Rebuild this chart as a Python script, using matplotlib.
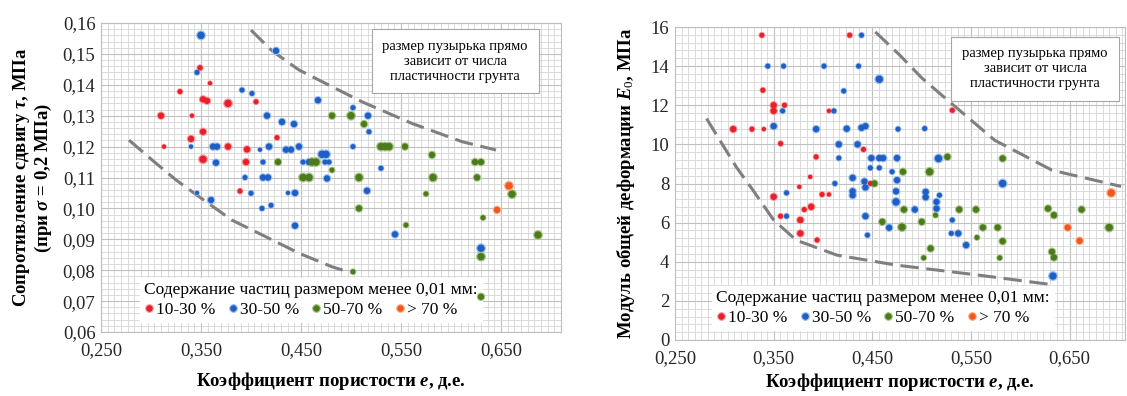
import numpy as np
import matplotlib.pyplot as plt
from matplotlib.ticker import MultipleLocator, FixedLocator, FuncFormatter
from matplotlib.lines import Line2D

plt.rcParams['font.family'] = ['Liberation Serif', 'DejaVu Serif']
plt.rcParams['mathtext.fontset'] = 'custom'
plt.rcParams['mathtext.rm'] = 'Liberation Serif'
plt.rcParams['mathtext.it'] = 'Liberation Serif:italic:bold'
plt.rcParams['mathtext.bf'] = 'Liberation Serif:bold'

groups = ['10-30 %', '30-50 %', '50-70 %', '> 70 %']
colors = ['#e8202a', '#1f5fc4', '#4c7a1c', '#f2581b']
halos = ['#f7a0a4', '#9fc0f0', '#a9c98a', '#f9b08f']

# --- сопротивление сдвигу: e, tau, число пластичности (размер пузырька)
tau_red_e = [0.349, 0.359, 0.329, 0.352, 0.356, 0.377, 0.310, 0.341, 0.352, 0.426, 0.340, 0.313,
             0.377, 0.396, 0.352, 0.395, 0.389, 0.405]
tau_red_t = [0.1455, 0.1405, 0.1378, 0.1353, 0.1348, 0.134, 0.130, 0.130, 0.1248, 0.1229, 0.1225, 0.120,
             0.120, 0.1191, 0.1159, 0.115, 0.1056, 0.1345]
tau_red_ip = [8, 5, 7, 11, 11, 15, 11, 5, 11, 7, 11, 5, 11, 11, 15, 11, 7, 7]

tau_blue_e = [0.350, 0.346, 0.425, 0.391, 0.401, 0.467, 0.416, 0.431, 0.443, 0.502, 0.517, 0.518,
              0.340, 0.362, 0.366, 0.409, 0.418, 0.435, 0.440, 0.448, 0.502, 0.365, 0.412, 0.452,
              0.458, 0.471, 0.475, 0.474, 0.478, 0.476, 0.394, 0.412, 0.417, 0.530, 0.400, 0.437,
              0.444, 0.346, 0.360, 0.411, 0.420, 0.444, 0.516, 0.544, 0.630]
tau_blue_t = [0.156, 0.144, 0.151, 0.1383, 0.1372, 0.135, 0.130, 0.128, 0.1273, 0.1326, 0.130, 0.1248,
              0.120, 0.120, 0.120, 0.119, 0.120, 0.119, 0.119, 0.120, 0.120, 0.1148, 0.115, 0.115,
              0.115, 0.1175, 0.1175, 0.115, 0.115, 0.1097, 0.110, 0.110, 0.110, 0.113, 0.1049, 0.105,
              0.105, 0.105, 0.1027, 0.100, 0.101, 0.0944, 0.1057, 0.0916, 0.0871]
tau_blue_ip = [15, 7, 11, 7, 7, 11, 11, 11, 11, 7, 11, 7,
               5, 11, 11, 5, 11, 11, 11, 11, 7, 11, 7, 7,
               11, 15, 15, 7, 7, 11, 7, 11, 11, 7, 7, 5,
               11, 5, 11, 7, 7, 11, 11, 11, 15]

tau_green_e = [0.427, 0.461, 0.465, 0.481, 0.452, 0.458, 0.481, 0.500, 0.513, 0.530, 0.534, 0.538,
               0.554, 0.581, 0.624, 0.630, 0.508, 0.582, 0.626, 0.575, 0.661, 0.508, 0.632, 0.555,
               0.687, 0.630, 0.502, 0.630]
tau_green_t = [0.115, 0.115, 0.115, 0.1124, 0.110, 0.110, 0.130, 0.130, 0.1273, 0.120, 0.120, 0.120,
               0.120, 0.1173, 0.115, 0.115, 0.110, 0.110, 0.110, 0.1047, 0.1046, 0.100, 0.097, 0.0946,
               0.0914, 0.0844, 0.0795, 0.0714]
tau_green_ip = [11, 15, 15, 7, 15, 15, 11, 15, 11, 15, 15, 15,
                11, 11, 11, 11, 15, 15, 11, 7, 15, 11, 7, 7,
                15, 15, 7, 11]

tau_orange_e = [0.658, 0.646]
tau_orange_t = [0.1073, 0.0995]
tau_orange_ip = [15, 11]

# огибающие
tau_up_e = [0.400, 0.421, 0.448, 0.481, 0.511, 0.561, 0.611, 0.645]
tau_up_t = [0.1577, 0.1510, 0.1448, 0.1394, 0.1345, 0.1275, 0.1216, 0.1189]
tau_lo_e = [0.278, 0.301, 0.325, 0.348, 0.381, 0.415, 0.448, 0.481, 0.495]
tau_lo_t = [0.1221, 0.1157, 0.1092, 0.1038, 0.0962, 0.0908, 0.0855, 0.0811, 0.0797]

# --- модуль деформации: e, E0, число пластичности
e0_red_e = [0.338, 0.427, 0.339, 0.350, 0.361, 0.350, 0.406, 0.309, 0.328, 0.340, 0.357, 0.441,
            0.393, 0.387, 0.376, 0.399, 0.406, 0.350, 0.388, 0.381, 0.357, 0.377, 0.377, 0.394,
            0.531, 0.448]
e0_red_v = [15.58, 15.58, 12.77, 12.0, 12.0, 11.71, 11.71, 10.78, 10.78, 10.78, 10.04, 9.74,
            9.36, 8.34, 7.83, 7.44, 7.44, 7.32, 6.81, 6.67, 6.33, 6.13, 5.45, 5.11,
            11.74, 8.0]
e0_red_ip = [7, 7, 7, 11, 7, 11, 5, 11, 7, 5, 7, 7,
             7, 5, 5, 7, 5, 11, 11, 7, 7, 11, 11, 7,
             7, 7]

e0_blue_e = [0.439, 0.344, 0.360, 0.401, 0.436, 0.457, 0.421, 0.359, 0.411, 0.350, 0.393, 0.424,
             0.439, 0.443, 0.476, 0.503, 0.416, 0.435, 0.416, 0.449, 0.457, 0.461, 0.475, 0.517,
             0.448, 0.457, 0.470, 0.430, 0.442, 0.443, 0.412, 0.475, 0.363, 0.430, 0.430, 0.474,
             0.474, 0.504, 0.504, 0.518, 0.515, 0.515, 0.363, 0.443, 0.467, 0.445, 0.493, 0.531,
             0.530, 0.537, 0.545, 0.582, 0.633]
e0_blue_v = [15.58, 14.0, 14.0, 14.0, 14.0, 13.33, 12.73, 11.71, 11.71, 10.93, 10.78, 10.8,
             10.85, 10.93, 10.78, 10.81, 10.0, 10.0, 9.3, 9.3, 9.3, 9.3, 9.3, 9.28,
             8.8, 8.8, 8.6, 8.29, 8.1, 7.8, 8.0, 8.17, 7.52, 7.6, 7.4, 7.6,
             7.06, 7.57, 7.3, 7.4, 7.06, 6.72, 6.33, 6.33, 5.74, 5.36, 6.67, 6.13,
             5.45, 5.45, 4.85, 8.0, 3.27]
e0_blue_ip = [7, 7, 7, 7, 7, 15, 7, 7, 7, 11, 11, 11,
              11, 11, 7, 7, 11, 11, 7, 11, 11, 11, 11, 15,
              7, 7, 7, 11, 11, 11, 7, 11, 7, 11, 11, 11,
              15, 11, 11, 7, 11, 11, 7, 11, 11, 7, 11, 7,
              7, 11, 11, 15, 15]

e0_green_e = [0.452, 0.460, 0.480, 0.526, 0.582, 0.481, 0.508, 0.482, 0.514, 0.538, 0.555, 0.628,
              0.634, 0.662, 0.500, 0.562, 0.577, 0.690, 0.556, 0.582, 0.509, 0.502, 0.579, 0.632,
              0.634]
e0_green_v = [8.0, 6.04, 5.77, 9.36, 9.28, 8.6, 8.6, 6.67, 6.38, 6.67, 6.67, 6.72,
              6.38, 6.67, 6.04, 5.75, 5.75, 5.75, 5.24, 5.05, 4.68, 4.2, 4.2, 4.51,
              4.22]
e0_green_ip = [11, 11, 15, 11, 11, 11, 15, 11, 7, 11, 11, 11,
               11, 11, 11, 11, 11, 15, 7, 11, 11, 7, 7, 11,
               11]

e0_orange_e = [0.692, 0.648, 0.660]
e0_orange_v = [7.52, 5.75, 5.07]
e0_orange_ip = [15, 11, 11]

e0_up_e = [0.453, 0.478, 0.500, 0.523, 0.574, 0.632, 0.702]
e0_up_v = [15.75, 14.55, 13.4, 12.4, 10.21, 8.68, 7.85]
e0_lo_e = [0.282, 0.312, 0.329, 0.350, 0.373, 0.414, 0.474, 0.557, 0.635]
e0_lo_v = [11.32, 8.85, 7.66, 6.13, 5.10, 4.34, 3.83, 3.32, 2.81]

legend_title = 'Содержание частиц размером менее 0,01 мм:'
note_text = 'размер пузырька прямо\nзависит от числа\nпластичности грунта'


def bubble(ip):
    return 1.9 * np.asarray(ip, dtype=float)


def comma(fmt):
    return FuncFormatter(lambda v, p: (fmt % v).replace('.', ','))


def setup(ax, xlim, ylim, ymajor, yminor, yfmt):
    ax.set_xlim(*xlim)
    ax.set_ylim(*ylim)
    ax.xaxis.set_major_locator(MultipleLocator(0.1, offset=0.05))
    ax.xaxis.set_minor_locator(FixedLocator(np.arange(0.25, 0.72, 0.1 / 15)))
    ax.yaxis.set_major_locator(MultipleLocator(ymajor))
    ax.yaxis.set_minor_locator(MultipleLocator(yminor))
    ax.xaxis.set_major_formatter(comma('%.3f'))
    ax.yaxis.set_major_formatter(comma(yfmt))
    ax.grid(which='major', color='#c0c0c0', lw=0.8)
    ax.grid(which='minor', color='#d6d6d6', lw=0.6)
    ax.set_axisbelow(True)
    ax.tick_params(which='both', length=0, labelsize=13.5, pad=4, labelcolor='#262626')
    ax.tick_params(axis='x', pad=7)
    for s in ax.spines.values():
        s.set_color('#bdbdbd')
        s.set_linewidth(0.8)


def draw(ax, series, env):
    for ex, ey in env:
        ax.plot(ex, ey, color='#7f7f7f', lw=2.2, dashes=(6, 2.5), zorder=2)
    # пузырьки поверх легенды, как в Excel
    for i, (sx, sy, sip) in enumerate(series):
        ax.scatter(sx, sy, s=bubble(sip) * 1.8, color=halos[i], lw=0, zorder=8)
        ax.scatter(sx, sy, s=bubble(sip), color=colors[i], lw=0, zorder=9)


def add_legend(ax, anchor):
    handles = [Line2D([], [], ls='', marker='o', ms=5.5, mfc=c, mec=h, mew=0.8)
               for c, h in zip(colors, halos)]
    leg = ax.legend(handles, groups, title=legend_title, ncol=4, loc='lower left',
                    bbox_to_anchor=anchor, fontsize=12.5, title_fontsize=12.5,
                    handletextpad=0.1, columnspacing=0.7, handlelength=0.6,
                    borderpad=0.25, labelspacing=0.2, frameon=True, fancybox=False,
                    alignment='left')
    leg.get_frame().set_facecolor('white')
    leg.get_frame().set_edgecolor('white')
    leg.get_frame().set_alpha(1)
    leg.set_zorder(6)


def add_note(ax, xy):
    ax.text(xy[0], xy[1], note_text, transform=ax.transAxes, ha='center', va='center',
            fontsize=10.5, linespacing=1.2, zorder=10,
            bbox=dict(boxstyle='square,pad=0.75', fc='white', ec='#a6a6a6', lw=0.8))


label_kw = dict(fontsize=13.5, fontweight='bold')

fig = plt.figure(figsize=(11.27, 3.96), dpi=100)

ax1 = fig.add_axes([101 / 1127, 64 / 396, 460 / 1127, 309 / 396])
setup(ax1, (0.25, 0.71), (0.06, 0.16), 0.01, 0.002, '%.2f')
draw(ax1, [(tau_red_e, tau_red_t, tau_red_ip), (tau_blue_e, tau_blue_t, tau_blue_ip),
           (tau_green_e, tau_green_t, tau_green_ip), (tau_orange_e, tau_orange_t, tau_orange_ip)],
     [(tau_up_e, tau_up_t), (tau_lo_e, tau_lo_t)])
add_legend(ax1, (0.065, 0.004))
add_note(ax1, (0.77, 0.877))
ax1.set_xlabel('Коэффициент пористости $e$, д.е.', labelpad=8, **label_kw)
ax1.set_ylabel('Сопротивление сдвигу $\\tau$, МПа\n(при $\\sigma$ = 0,2 МПа)',
               labelpad=6, linespacing=1.05, **label_kw)

ax2 = fig.add_axes([675 / 1127, 56 / 396, 450 / 1127, 313 / 396])
setup(ax2, (0.25, 0.706), (0, 16), 2, 0.4, '%.0f')
draw(ax2, [(e0_red_e, e0_red_v, e0_red_ip), (e0_blue_e, e0_blue_v, e0_blue_ip),
           (e0_green_e, e0_green_v, e0_green_ip), (e0_orange_e, e0_orange_v, e0_orange_ip)],
     [(e0_up_e, e0_up_v), (e0_lo_e, e0_lo_v)])
add_legend(ax2, (0.062, 0.004))
add_note(ax2, (0.8, 0.866))
ax2.set_xlabel('Коэффициент пористости $e$, д.е.', labelpad=3, **label_kw)
ax2.set_ylabel('Модуль общей деформации $E_0$, МПа', labelpad=10, **label_kw)

fig.savefig('out.png', dpi=100)
